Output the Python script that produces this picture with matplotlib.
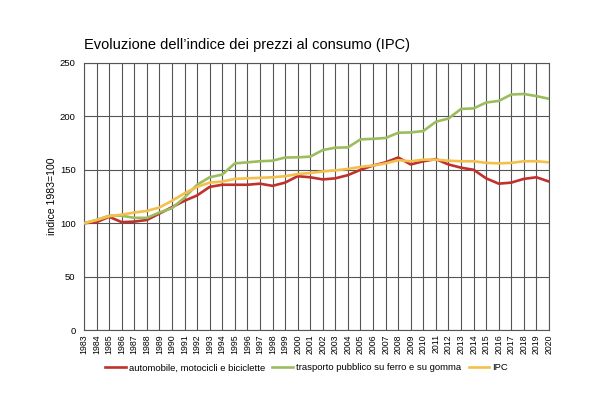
import matplotlib
matplotlib.use("Agg")
import matplotlib.pyplot as plt

plt.rcParams['font.family'] = ['Liberation Sans', 'DejaVu Sans']

years = list(range(1983, 2021))
automobili = [100, 101, 106, 101, 101.5, 103, 109, 115, 121, 126, 134, 136, 136, 136, 137, 135, 138, 144,
              143, 141, 142, 145, 150, 154, 157, 161.5, 155, 158, 160, 155, 152, 150, 142, 137, 138, 141.5, 143, 139]
trasporto = [100, 103, 107, 107, 105, 105, 110, 114, 124, 136, 143, 145.5, 156, 157, 158, 158.5, 161.5, 161.7,
             162.3, 168.5, 170.7, 171, 178.5, 179, 179.8, 184.7, 185, 186.3, 195, 198, 207, 207.5, 213, 214.5,
             220.5, 221, 219, 216.5]
ipc = [100, 103, 106.5, 108, 110, 111.5, 114.7, 121, 128, 134, 138, 139, 141.5, 142, 142.5, 143, 144, 146,
       147, 148.5, 149.5, 150.8, 152.7, 154, 156, 159, 158, 159.5, 159.5, 158.5, 158, 158, 156.5, 156, 156.5,
       158, 158, 157]

labels = ["automobile, motocicli e biciclette", "trasporto pubblico su ferro e su gomma", "IPC"]
colors = ["#c0302c", "#9cbd5e", "#f4c04c"]

fig = plt.figure(figsize=(5.94, 3.99), dpi=100)
ax = fig.add_axes([84/594, 1-330/399, (549-84)/594, (330-63)/399])

for data, lab, col in zip([automobili, trasporto, ipc], labels, colors):
    ax.plot(years, data, color=col, lw=1.9, label=lab, zorder=3)

ax.set_xlim(1983, 2020)
ax.set_ylim(0, 250)
ax.set_yticks([0, 50, 100, 150, 200, 250])
ax.set_xticks(years)
ax.set_xticklabels([str(y) for y in years], rotation=90, fontsize=6.3)
ax.tick_params(axis='y', labelsize=6.8, length=0, pad=6)
ax.tick_params(axis='x', length=0, pad=3)
ax.grid(True, color='#555555', lw=0.8, zorder=1)
for s in ax.spines.values():
    s.set_color('#555555')
    s.set_linewidth(0.8)
ax.set_ylabel("indice 1983=100", fontsize=7.6, labelpad=2)

fig.text(84/594, 1-45/399, "Evoluzione dell\u2019indice dei prezzi al consumo (IPC)", fontsize=10.5,
         ha='left', va='center')

fig.legend(loc='center', bbox_to_anchor=(0.516, 1-368/399), ncol=3, frameon=False, fontsize=6.8,
           handlelength=2.2, columnspacing=0.8, handletextpad=0.3)

fig.savefig("out.png", dpi=100)
